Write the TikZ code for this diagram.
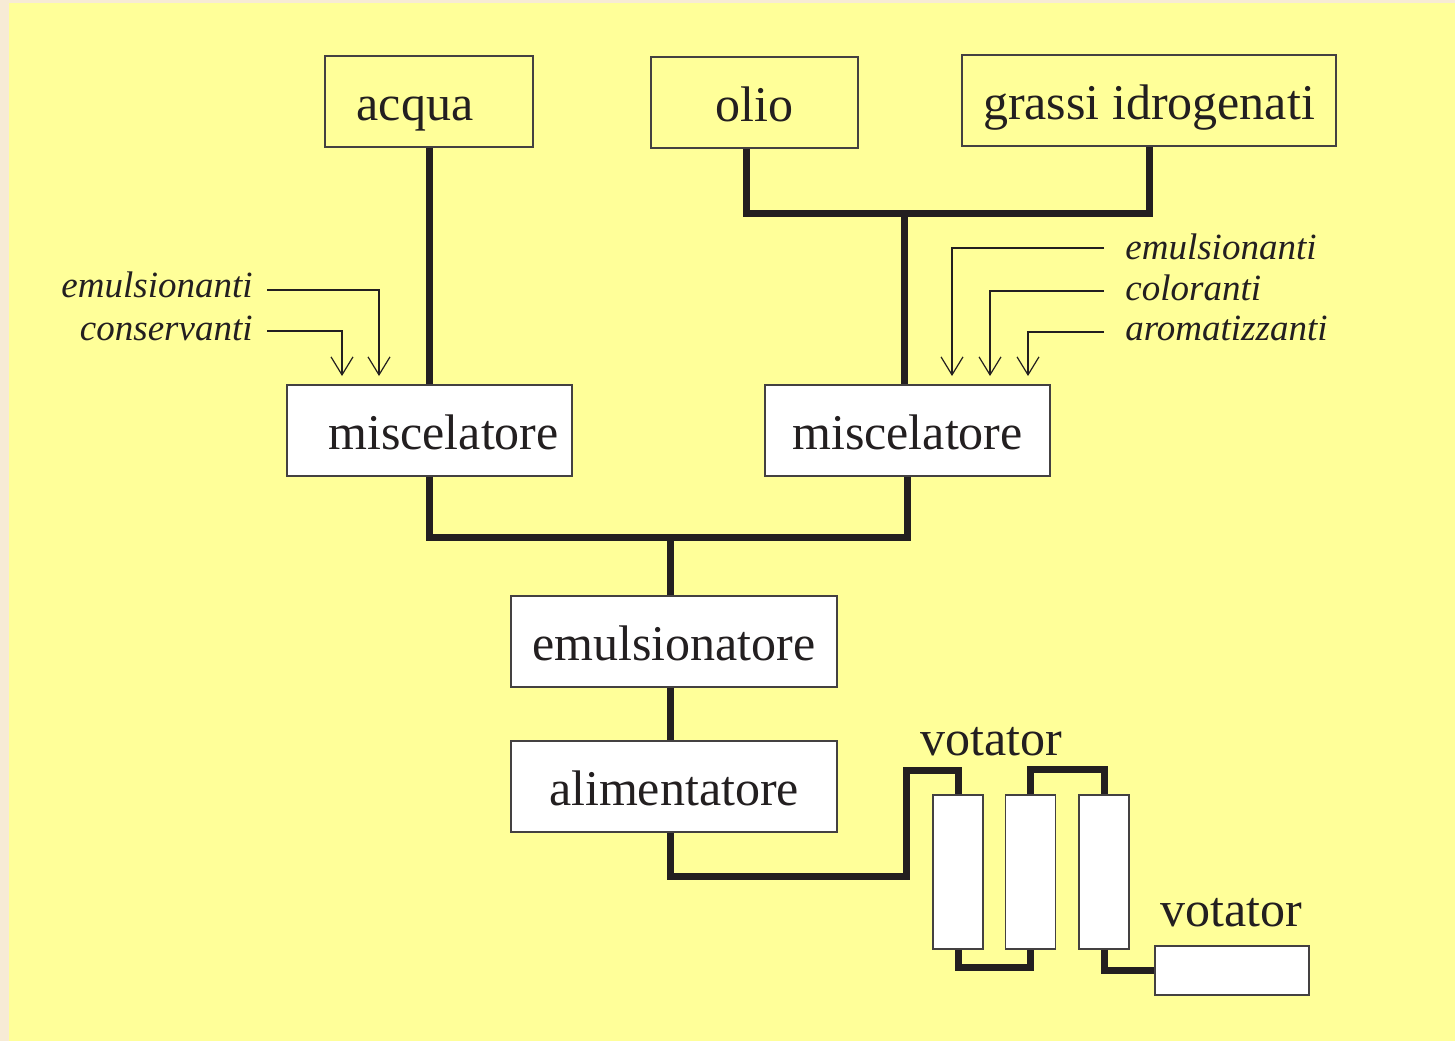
\documentclass[tikz,border=0pt]{standalone}
\usepackage{fontspec}
\setmainfont{Liberation Serif}
\usetikzlibrary{arrows.meta}
\definecolor{pagecream}{HTML}{F7EBD5}
\definecolor{chartyellow}{HTML}{FFFF99}
\definecolor{ink}{HTML}{231F20}

\begin{document}
\begin{tikzpicture}[x=0.5pt,y=-0.5pt,line join=miter,
  box/.style={draw=ink!85,line width=0.6pt,fill=white,inner sep=0pt,minimum height=45.5pt,
    text height=19pt,text depth=0pt,text=ink,font=\fontsize{25}{30}\selectfont},
  srcbox/.style={box,fill=chartyellow},
  tank/.style={draw=ink!85,line width=0.6pt,fill=white,inner sep=0pt,minimum width=25pt,minimum height=77pt},
  lab/.style={text=ink,inner sep=0pt,font=\fontsize{18.5}{22}\selectfont\itshape},
  pipe/.style={draw=ink,line width=3.5pt},
  feed/.style={draw=ink,line width=0.6pt,-{Straight Barb[length=9pt,width=11pt]}}]
  % background
  \fill[pagecream] (0,0) rectangle (1455,1041);
  \useasboundingbox (0,0) rectangle (1455,1041);
  \fill[chartyellow] (9,3) rectangle (1455,1041);

  % sources
  \node[srcbox,minimum width=104pt] (acqua) at (429,101.5) {acqua\kern14pt\relax};
  \node[srcbox,minimum width=103.5pt] (olio) at (754.5,102.5) {olio};
  \node[srcbox,minimum width=187pt] (grassi) at (1149,100.5) {grassi idrogenati};

  % process boxes
  \node[box,minimum width=142.5pt] (mixA) at (429.5,430.5) {\hspace{14pt}miscelatore};
  \node[box,minimum width=142.5pt] (mixB) at (907.5,430.5) {miscelatore};
  \node[box,minimum width=163pt] (emul) at (674,641.5) {emulsionatore};
  \node[box,minimum width=163pt] (alim) at (674,786.5) {alimentatore};

  % votator
  \node[tank] (colA) at (958,872) {};
  \node[tank] (colB) at (1030.5,872) {};
  \node[tank] (colC) at (1104,872) {};
  \node[box,minimum width=77pt,minimum height=24.5pt] (final) at (1232,970.5) {};
  \node[anchor=base west,inner sep=0pt,text=ink,font=\fontsize{25}{30}\selectfont] (votA) at (920,755) {votator};
  \node[anchor=base west,inner sep=0pt,text=ink,font=\fontsize{25}{30}\selectfont] (votB) at (1160,926) {votator};

  % additives
  \node[lab,anchor=base east] (emuL) at (253,297) {emulsionanti};
  \node[lab,anchor=base east] (conL) at (253,340) {conservanti};
  \node[lab,anchor=base west] (emuR) at (1125,259) {emulsionanti};
  \node[lab,anchor=base west] (colR) at (1125,300) {coloranti};
  \node[lab,anchor=base west] (aroR) at (1125,340) {aromatizzanti};

  \coordinate (emuLout) at (267,290);
  \coordinate (conLout) at (267,331);
  \coordinate (emuLin) at (379,376);
  \coordinate (conLin) at (342,376);
  \coordinate (emuRout) at (1104,248);
  \coordinate (colRout) at (1104,291);
  \coordinate (aroRout) at (1104,332);
  \coordinate (emuRin) at (952,376);
  \coordinate (colRin) at (990,376);
  \coordinate (aroRin) at (1028,376);

  \draw[feed] (emuLout) -| (emuLin);
  \draw[feed] (conLout) -| (conLin);
  \draw[feed] (emuRout) -| (emuRin);
  \draw[feed] (colRout) -| (colRin);
  \draw[feed] (aroRout) -| (aroRin);

  % pipes
  \coordinate (oilJ) at (904,213);
  \coordinate (mixJ) at (670,537);
  \coordinate (bendA) at (906,876);
  \coordinate (bendB) at (906,770);

  \draw[pipe] (acqua.south) -- (acqua.south |- mixA.north);
  \draw[pipe] ([xshift=-4pt]olio.south) |- (oilJ) -| (grassi.south);
  \draw[pipe] (oilJ) -- (oilJ |- mixB.north);
  \draw[pipe] (mixA.south) |- (mixJ) -| (mixB.south);
  \draw[pipe] (mixJ) -- (mixJ |- emul.north);
  \draw[pipe] ([xshift=-2pt]emul.south) -- ([xshift=-2pt]alim.north);
  \draw[pipe] ([xshift=-2pt]alim.south) |- (bendA) -- (bendB) -| (colA.north);
  \draw[pipe] (colA.south) -- ++(0,18) -| (colB.south);
  \draw[pipe] (colB.north) -- ++(0,-25) -| (colC.north);
  \draw[pipe] (colC.south) |- (final.west);
\end{tikzpicture}
\end{document}
